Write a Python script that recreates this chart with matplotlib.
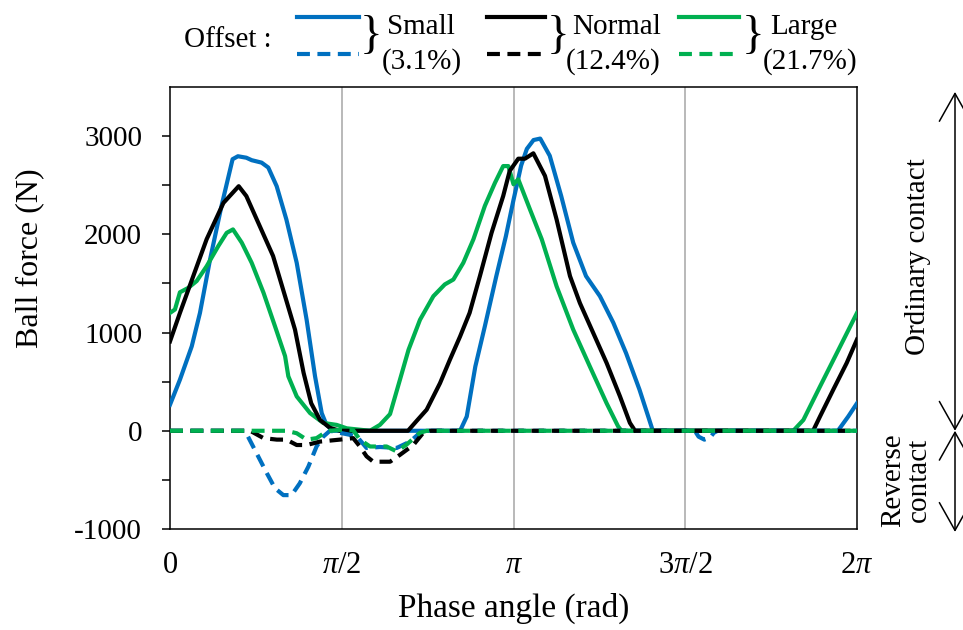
import matplotlib
matplotlib.use("Agg")
import matplotlib.pyplot as plt
from matplotlib.lines import Line2D
import numpy as np

plt.rcParams['font.family'] = ['Liberation Serif', 'DejaVu Serif']
plt.rcParams['mathtext.fontset'] = 'custom'
plt.rcParams['mathtext.rm'] = 'Liberation Serif'
plt.rcParams['mathtext.it'] = 'Liberation Serif:italic'
plt.rcParams['axes.unicode_minus'] = False

# phase angle in degrees, ball force in N
small_deg = [0, 5.2, 11.4, 15.7, 21, 27, 32.8, 35.6, 40, 42.8, 48, 51.5, 55.9, 61, 66.4, 71.6, 76, 79.5, 82, 85.5,
             152, 155.5, 160, 165, 171, 176, 180, 184, 187, 190.5, 194, 199, 205, 211.3, 218, 225.3, 232.3, 239,
             246, 250.6, 253, 350, 355.4, 360]
small_f = [265, 520, 860, 1200, 1745, 2290, 2765, 2795, 2780, 2755, 2730, 2680, 2490, 2150, 1710, 1130, 555, 180, 60, 0,
           0, 145, 655, 1065, 1575, 1980, 2350, 2700, 2870, 2960, 2975, 2800, 2390, 1915, 1575, 1370, 1100, 790,
           420, 145, 0, 0, 145, 280]

normal_deg = [0, 5.2, 12.2, 19.2, 28, 36, 40, 47, 54, 60.3, 65.5, 70, 74, 78.6, 83.8, 89,
              124.7, 129, 134.5, 141.5, 146.7, 152, 157, 162.4, 168.5, 174.6, 178, 182.5, 186, 190.4, 196.5,
              202.6, 209.6, 214.8, 221.8, 228.8, 235.8, 241, 243.7, 337, 340.6, 347.6, 354.6, 360]
normal_f = [910, 1200, 1575, 1950, 2320, 2490, 2390, 2085, 1780, 1370, 1030, 590, 280, 110, 30, 0,
            0, 95, 215, 485, 725, 960, 1200, 1575, 2015, 2390, 2645, 2770, 2770, 2825, 2595,
            2150, 1575, 1300, 995, 690, 350, 80, 0, 0, 145, 420, 690, 930]

large_deg = [0, 2.6, 5.2, 9.6, 14, 19.2, 25.3, 29.7, 33, 37.6, 42.8, 49, 55, 60.3, 62, 66.4, 73.4, 80.3, 87.3, 92.6,
             104.8, 110, 115.3, 120.5, 125, 131, 138, 144, 148.5, 153.7, 159, 165, 170.3, 174.6, 177.3, 180, 182.5,
             188.6, 194.8, 202.6, 211.3, 220, 228.8, 234.8, 236.6, 326.6, 331.9, 340.6, 349.4, 360]
large_f = [1200, 1235, 1410, 1455, 1525, 1675, 1880, 2015, 2050, 1915, 1710, 1405, 1065, 760, 555, 350, 180, 80, 60, 25,
           0, 60, 170, 520, 825, 1130, 1370, 1490, 1540, 1710, 1950, 2290, 2525, 2695, 2695, 2510, 2560,
           2255, 1950, 1470, 1030, 655, 280, 45, 0, 0, 110, 450, 790, 1200]

small_rev_deg = [0, 39.3, 45.4, 50.7, 55, 59.4, 63.7, 68, 72.5, 76.8, 80.3, 83.8, 97.8, 103, 110, 118.8, 125.8,
                 131, 133, 275, 277, 280, 283, 285, 287, 360]
small_rev_f = [0, 0, -230, -430, -585, -655, -655, -535, -365, -160, -60, 0, -55, -175, -165, -175, -110,
               -20, 0, 0, -60, -90, -70, -20, 0, 0]

normal_rev_deg = [0, 42, 49, 56, 61, 66.4, 71.6, 78.6, 89, 96, 99.5, 103, 106.5, 115.3, 120.5, 127.5, 132.7, 136.2, 360]
normal_rev_f = [0, 0, -75, -90, -90, -145, -145, -110, -90, -75, -160, -260, -315, -315, -245, -145, -20, 0, 0]

large_rev_deg = [0, 61, 66.4, 71.6, 76.8, 80.3, 83.8, 90, 96, 99.5, 104.8, 113.5, 118.8, 124, 131, 134.5, 360]
large_rev_f = [0, 0, -25, -90, -75, -30, 0, 10, 5, -90, -160, -160, -210, -140, -20, 0, 0]

x_ticks = [0, 90, 180, 270, 360]
x_labels = ['0', r'$\pi$/2', r'$\pi$', r'3$\pi$/2', r'2$\pi$']
y_ticks = [-1000, 0, 1000, 2000, 3000]
y_labels = ['-1000', '0', '1000', '2000', '3000']

c_small = '#0070C0'
c_normal = '#000000'
c_large = '#00B050'
lw = 3.0
dash = (3.1, 1.8)

W, H = 963, 630
fig = plt.figure(figsize=(W / 100, H / 100), dpi=100)
ax = fig.add_axes([170 / W, 1 - 529 / H, 687 / W, 442 / H])

for g in [90, 180, 270]:
    ax.axvline(g, color='#a6a6a6', lw=1.1, zorder=1)

ax.plot(small_deg, small_f, color=c_small, lw=lw, zorder=3)
ax.plot(large_deg, large_f, color=c_large, lw=lw, zorder=3)
ax.plot(normal_deg, normal_f, color=c_normal, lw=lw, zorder=3)
ax.plot(small_rev_deg, small_rev_f, color=c_small, lw=lw, dashes=dash, zorder=4)
ax.plot(normal_rev_deg, normal_rev_f, color=c_normal, lw=lw, dashes=dash, zorder=4)
ax.plot(large_rev_deg, large_rev_f, color=c_large, lw=lw, dashes=dash, zorder=4)

ax.set_xlim(0, 360)
ax.set_ylim(-1000, 3500)
ax.set_xticks(x_ticks)
ax.set_xticklabels(x_labels, fontsize=22)
ax.set_yticks(y_ticks)
ax.set_yticklabels(y_labels, fontsize=21)
ax.set_yticks([-500, 500, 1500, 2500], minor=True)
ax.tick_params(axis='y', which='both', direction='out', length=6, width=1.1, pad=14)
ax.tick_params(axis='x', length=0, pad=16)
for s in ax.spines.values():
    s.set_linewidth(1.1)

ax.set_xlabel('Phase angle (rad)', fontsize=24, va='center')
ax.xaxis.set_label_coords(0.5, -(608 - 529) / 442)
ax.set_ylabel('Ball force (N)', fontsize=23, va='center')
ax.yaxis.set_label_coords((30 - 170) / 687, (529 - 258) / 442)

# contact arrows on the right
arrow = dict(arrowstyle='<->,head_length=0.8,head_width=0.45', lw=1.1, color='black',
             shrinkA=0, shrinkB=0, mutation_scale=25)
xa = (955 - 170) / 687
ax.annotate('', xy=(xa, 3450), xytext=(xa, 0), xycoords=('axes fraction', 'data'),
            arrowprops=arrow, annotation_clip=False)
ax.annotate('', xy=(xa, 0), xytext=(xa, -1030), xycoords=('axes fraction', 'data'),
            arrowprops=arrow, annotation_clip=False)
fig.text(918 / W, 1 - 257 / H, 'Ordinary contact', rotation=90, ha='center', va='center', fontsize=21)
fig.text(906 / W, 1 - 480 / H, 'Reverse\ncontact', rotation=90, ha='center', va='center',
         fontsize=21, linespacing=1.0)

# legend at the top
fig.text(228 / W, 1 - 40 / H, 'Offset :', ha='center', va='center', fontsize=21)
legend_items = [
    (c_small, 297, 359, 371, 421, 422, 'Small', '(3.1%)'),
    (c_normal, 487, 545, 558, 617, 613, 'Normal', '(12.4%)'),
    (c_large, 679, 739, 753, 804, 810, 'Large', '(21.7%)'),
]
for col, x0, x1, xb, xt1, xt2, name, pct in legend_items:
    fig.add_artist(Line2D([x0 / W, x1 / W], [1 - 17 / H, 1 - 17 / H], color=col, lw=lw))
    fig.add_artist(Line2D([x0 / W, x1 / W], [1 - 54 / H, 1 - 54 / H], color=col, lw=lw, dashes=dash))
    fig.text(xb / W, 1 - 37 / H, '}', ha='center', va='center', fontsize=34, fontweight='light')
    fig.text(xt1 / W, 1 - 27 / H, name, ha='center', va='center', fontsize=21)
    fig.text(xt2 / W, 1 - 62 / H, pct, ha='center', va='center', fontsize=21)

fig.savefig('out.png', dpi=100)
